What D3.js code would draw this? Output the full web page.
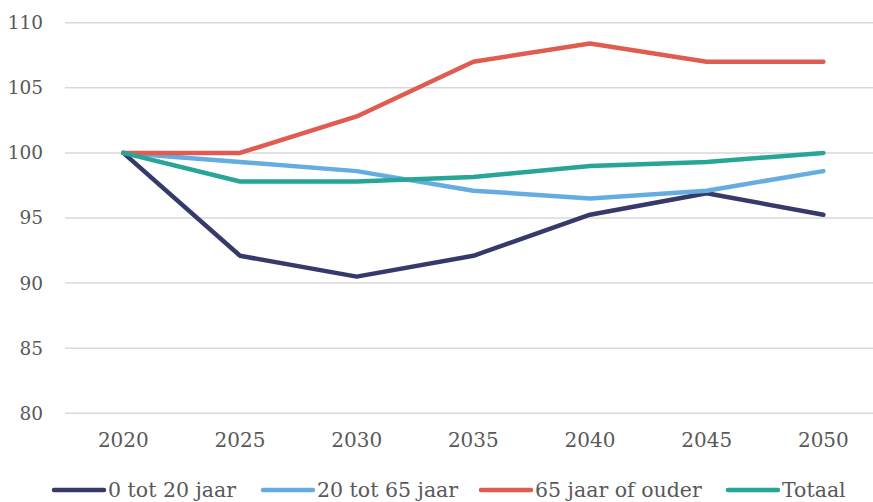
<!DOCTYPE html>
<html><head><meta charset="utf-8">
<script src="https://cdn.jsdelivr.net/npm/d3@7"></script>
<style>body{margin:0;background:#fff}svg{display:block}</style>
</head><body><svg id="c" width="873" height="502"></svg>
<script>
const years = ["2020","2025","2030","2035","2040","2045","2050"];
const yTicks = [80,85,90,95,100,105,110];
const seriesNames = ["0 tot 20 jaar","20 tot 65 jaar","65 jaar of ouder","Totaal"];
const seriesColors = ["#363a6a","#65ade1","#e05c50","#27a596"];
const s0to20 = [100,92.1,90.5,92.1,95.25,96.9,95.25];
const s20to65 = [100,99.3,98.6,97.1,96.5,97.1,98.6];
const s65plus = [100,100,102.8,107.0,108.4,107.0,107.0];
const sTotaal = [100,97.8,97.8,98.15,99.0,99.3,100];
const allSeries = [s0to20,s20to65,s65plus,sTotaal];

const svg = d3.select("#c");
const font = "'DejaVu Serif', serif";
const x = d3.scaleBand().domain(years).range([65,881.7]);
const y = d3.scaleLinear().domain([80,110]).range([413.3,22.7]);

svg.append("g").selectAll("line").data(yTicks).join("line")
  .attr("x1",65).attr("x2",873).attr("y1",d=>y(d)).attr("y2",d=>y(d))
  .attr("stroke","#d9d9d9").attr("stroke-width",1.5);

svg.append("g").selectAll("text").data(yTicks).join("text")
  .attr("x",43).attr("y",d=>y(d)).attr("dy","0.35em").attr("text-anchor","end")
  .attr("font-family",font).attr("font-size",18.5).attr("fill","#595959").text(d=>d);

svg.append("g").selectAll("text").data(years).join("text")
  .attr("x",d=>x(d)+x.bandwidth()/2).attr("y",447).attr("text-anchor","middle")
  .attr("font-family",font).attr("font-size",20).attr("fill","#595959").text(d=>d);

const line = d3.line().x((d,i)=>x(years[i])+x.bandwidth()/2).y(d=>y(d));
svg.append("g").selectAll("path").data(allSeries).join("path")
  .attr("d",line).attr("fill","none").attr("stroke",(d,i)=>seriesColors[i])
  .attr("stroke-width",4.5).attr("stroke-linejoin","round").attr("stroke-linecap","round");

const legX = [54,263,481,728];
const lg = svg.append("g").selectAll("g").data(seriesNames).join("g")
  .attr("transform",(d,i)=>`translate(${legX[i]},490)`);
lg.append("line").attr("x1",0).attr("x2",50).attr("stroke",(d,i)=>seriesColors[i])
  .attr("stroke-width",4.5).attr("stroke-linecap","round");
lg.append("text").attr("x",54).attr("dy","0.35em").attr("font-family",font)
  .attr("font-size",20.5).attr("fill","#595959").text(d=>d);
</script></body></html>
